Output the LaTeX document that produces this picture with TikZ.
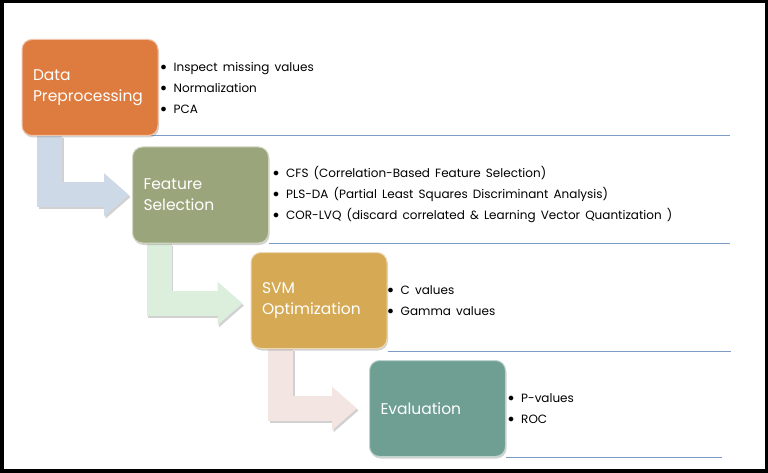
\documentclass[tikz,border=0pt]{standalone}
\usepackage{fontspec}
\setmainfont{Poppins}
\newfontfamily\itemfont[WordSpace=1.6]{Poppins}
\usetikzlibrary{positioning,arrows.meta,backgrounds,shadows}

\definecolor{prepcol}{HTML}{DE7B3E}
\definecolor{featcol}{HTML}{9BA57B}
\definecolor{svmcol}{HTML}{D6AA55}
\definecolor{evalcol}{HTML}{6F9F92}
\definecolor{flowblue}{HTML}{CDD9E6}
\definecolor{flowgreen}{HTML}{DCEEDC}
\definecolor{flowpink}{HTML}{F3E5E1}
\definecolor{linecol}{HTML}{7C9CC6}

\newcommand\itm{\makebox[13pt][l]{\raisebox{1pt}{$\bullet$}}}

\tikzset{
  stage/.style={rounded corners=10pt, minimum width=136pt, minimum height=96pt,
    text width=114pt, inner xsep=11pt, align=left, text=white,
    font=\fontsize{15.5}{21}\selectfont, fill=#1, draw=white!55!#1, line width=1pt,
    drop shadow={shadow xshift=1pt, shadow yshift=-2pt, opacity=0.35}},
  items/.style={inner sep=0pt, align=left, font=\itemfont\fontsize{12}{21}\selectfont},
  flow/.style={line width=25pt, draw=#1, -{Triangle[width=42pt,length=25pt]}},
  flowshade/.style={line width=25pt, draw=black, opacity=0.18,
    -{Triangle[width=42pt,length=25pt]}, transform canvas={shift={(1.5pt,-2pt)}}},
  sepline/.style={draw=linecol, line width=1pt},
}

\begin{document}
\begin{tikzpicture}[x=1pt,y=-1pt]
  \useasboundingbox (0,0) rectangle (768,473);

  % stages
  \node[stage=prepcol] (dp)  at (90,87.5)     {Data\\Preprocessing};
  \node[stage=featcol] (fs)  at (200.5,195)   {Feature\\Selection};
  \node[stage=svmcol]  (svm) at (319,300.5)   {SVM\\Optimization};
  \node[stage=evalcol] (ev)  at (437.5,408.5) {Evaluation};

  % bullet lists
  \node[items] (dplist)  [right=2pt of dp]  {\itm Inspect missing values\\ \itm Normalization\\ \itm PCA};
  \node[items] (fslist)  [right=4pt of fs]  {\itm CFS (Correlation-Based Feature Selection)\\
    \itm PLS-DA (Partial Least Squares Discriminant Analysis)\\
    \itm COR-LVQ (discard correlated \& Learning Vector Quantization )};
  \node[items] (svmlist) [right=0pt of svm] {\itm C values\\ \itm Gamma values};
  \node[items] (evlist)  [right=2pt of ev]  {\itm P-values\\ \itm ROC};

  \begin{scope}[on background layer]
    % frame
    \fill (0,0) rectangle (768,473);
    \fill[white] (4,3) rectangle (765,469);
    % separators
    \draw[sepline] ([xshift=-8pt]dp.south east) -- ++(579pt,0);
    \draw[sepline] (fs.south east) -- ++(461pt,0);
    \draw[sepline] ([yshift=-2.5pt]svm.south east) -- ++(343pt,0);
    \draw[sepline] (ev.south east) -- ++(216pt,0);
    % bent arrows
    \draw[flowshade] ([xshift=28pt]dp.south west) |- ([xshift=-3pt]fs.west);
    \draw[flow=flowblue] ([xshift=28pt]dp.south west) |- ([xshift=-3pt]fs.west);
    \draw[flowshade] ([xshift=27pt]fs.south west) |- ([xshift=-8pt,yshift=-3pt]svm.west);
    \draw[flow=flowgreen] ([xshift=27pt]fs.south west) |- ([xshift=-8pt,yshift=-3pt]svm.west);
    \draw[flowshade] ([xshift=30pt]svm.south west) |- ([xshift=-12pt]ev.west);
    \draw[flow=flowpink] ([xshift=30pt]svm.south west) |- ([xshift=-12pt]ev.west);
  \end{scope}
\end{tikzpicture}
\end{document}
